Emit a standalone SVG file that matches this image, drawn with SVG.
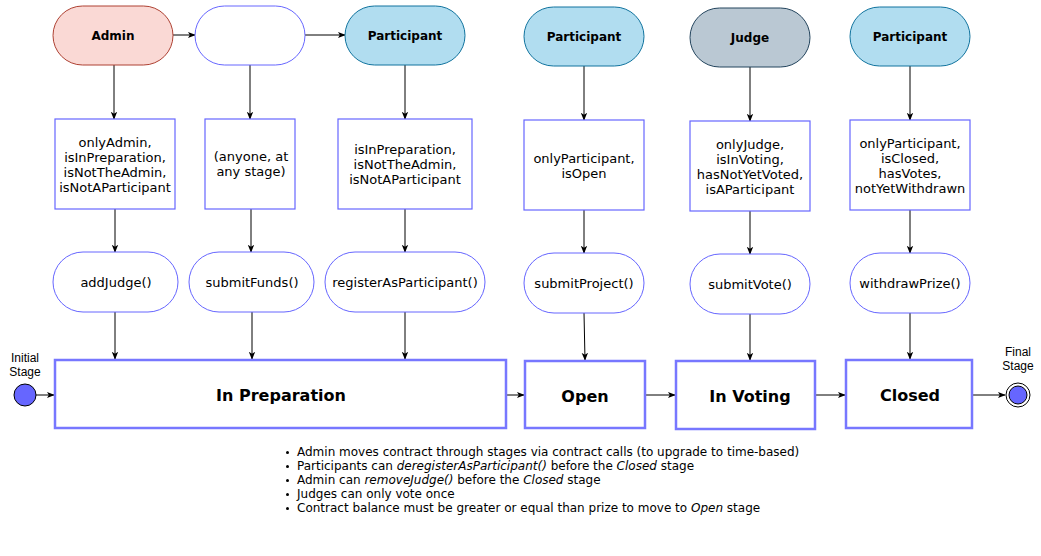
<svg xmlns="http://www.w3.org/2000/svg" width="1041" height="556" viewBox="0 0 1041 556">
<style>
  .t{font-family:"DejaVu Sans",Verdana,sans-serif;font-size:13px;fill:#000;text-anchor:middle}
  .b{font-weight:bold;font-size:12px}
  .st{font-family:"DejaVu Sans",Verdana,sans-serif;font-size:16px;font-weight:bold;fill:#000;text-anchor:middle}
  .lab{font-family:"Liberation Sans",Arial,sans-serif;font-size:12px;fill:#000;text-anchor:middle}
  .note{font-family:"DejaVu Sans",Verdana,sans-serif;font-size:12px;fill:#000}
  .guard{fill:#fff;stroke:#6666ff;stroke-width:1.2}
  .fn{fill:#fff;stroke:#6666ff;stroke-width:1}
  .stage{fill:#fff;stroke:#7777ff;stroke-width:2.5}
  .c{fill:none;stroke:#000;stroke-width:1;marker-end:url(#ah)}
</style>
<defs>
  <marker id="ah" viewBox="0 0 10 10" refX="9" refY="5" markerWidth="8" markerHeight="8" markerUnits="userSpaceOnUse" orient="auto">
    <path d="M0,1 L10,5 L0,9 L2.5,5 Z" fill="#000"/>
  </marker>
</defs>
<rect width="1041" height="556" fill="#fff"/>

<g id="connectors">
  <line class="c" x1="173" y1="35" x2="195" y2="35"/>
  <line class="c" x1="305" y1="35" x2="345" y2="35"/>
  <line class="c" x1="114" y1="65" x2="114" y2="119"/>
  <line class="c" x1="250" y1="65" x2="250" y2="119"/>
  <line class="c" x1="405" y1="65" x2="405" y2="119"/>
  <line class="c" x1="584" y1="66" x2="584" y2="120"/>
  <line class="c" x1="750" y1="67" x2="750" y2="121"/>
  <line class="c" x1="910" y1="66" x2="910" y2="120"/>
  <line class="c" x1="115" y1="209" x2="115" y2="252"/>
  <line class="c" x1="251" y1="209" x2="251" y2="252"/>
  <line class="c" x1="405" y1="209" x2="405" y2="252"/>
  <line class="c" x1="584" y1="210" x2="584" y2="253"/>
  <line class="c" x1="750" y1="211" x2="750" y2="254"/>
  <line class="c" x1="910" y1="210" x2="910" y2="253"/>
  <line class="c" x1="115" y1="312" x2="115" y2="359"/>
  <line class="c" x1="252" y1="312" x2="252" y2="359"/>
  <line class="c" x1="405" y1="312" x2="405" y2="359"/>
  <line class="c" x1="584" y1="313" x2="585" y2="360"/>
  <line class="c" x1="750" y1="314" x2="750" y2="360"/>
  <line class="c" x1="910" y1="313" x2="910" y2="359"/>
  <line class="c" x1="36" y1="395" x2="54" y2="395"/>
  <line class="c" x1="507" y1="395" x2="524" y2="395"/>
  <line class="c" x1="646" y1="395" x2="675" y2="395"/>
  <line class="c" x1="816" y1="395" x2="845" y2="395"/>
  <line class="c" x1="973" y1="395" x2="1005" y2="395"/>
</g>

<g id="admin">
  <rect x="53" y="6" width="120" height="59" rx="29.5" fill="#fad9d5" stroke="#ae4132"/>
  <text class="t b" x="113" y="40">Admin</text>
</g>
<g id="anyone">
  <rect x="195" y="6" width="110" height="59" rx="29.5" fill="#fff" stroke="#6666ff"/>
</g>
<g id="participant1">
  <rect x="345" y="6" width="120" height="59" rx="29.5" fill="#b1ddf0" stroke="#10739e"/>
  <text class="t b" x="405" y="40">Participant</text>
</g>
<g id="participant2">
  <rect x="524" y="7" width="120" height="59" rx="29.5" fill="#b1ddf0" stroke="#10739e"/>
  <text class="t b" x="584" y="41">Participant</text>
</g>
<g id="judge">
  <rect x="690" y="8" width="120" height="59" rx="29.5" fill="#bac8d3" stroke="#23445d"/>
  <text class="t b" x="750" y="42">Judge</text>
</g>
<g id="participant3">
  <rect x="850" y="7" width="120" height="59" rx="29.5" fill="#b1ddf0" stroke="#10739e"/>
  <text class="t b" x="910" y="41">Participant</text>
</g>

<g id="guard1">
  <rect class="guard" x="55" y="119" width="120" height="90"/>
  <text class="t" x="115" y="147">onlyAdmin,</text>
  <text class="t" x="115" y="162">isInPreparation,</text>
  <text class="t" x="115" y="177">isNotTheAdmin,</text>
  <text class="t" x="115" y="192">isNotAParticipant</text>
</g>
<g id="guard2">
  <rect class="guard" x="205" y="119" width="90" height="90"/>
  <text class="t" x="251" y="161">(anyone, at</text>
  <text class="t" x="251" y="176">any stage)</text>
</g>
<g id="guard3">
  <rect class="guard" x="338" y="119" width="134" height="90" stroke="#8888ff" stroke-width="1.6"/>
  <text class="t" x="405" y="154">isInPreparation,</text>
  <text class="t" x="405" y="169">isNotTheAdmin,</text>
  <text class="t" x="405" y="184">isNotAParticipant</text>
</g>
<g id="guard4">
  <rect class="guard" x="524" y="120" width="120" height="90"/>
  <text class="t" x="584" y="163">onlyParticipant,</text>
  <text class="t" x="584" y="178">isOpen</text>
</g>
<g id="guard5">
  <rect class="guard" x="690" y="121" width="120" height="90"/>
  <text class="t" x="750" y="149">onlyJudge,</text>
  <text class="t" x="750" y="164">isInVoting,</text>
  <text class="t" x="750" y="179">hasNotYetVoted,</text>
  <text class="t" x="750" y="194">isAParticipant</text>
</g>
<g id="guard6">
  <rect class="guard" x="850" y="120" width="120" height="90"/>
  <text class="t" x="910" y="148">onlyParticipant,</text>
  <text class="t" x="910" y="163">isClosed,</text>
  <text class="t" x="910" y="178">hasVotes,</text>
  <text class="t" x="910" y="193">notYetWithdrawn</text>
</g>

<g id="addJudge">
  <rect class="fn" x="53" y="252" width="125" height="60" rx="30"/>
  <text class="t" x="116" y="287">addJudge()</text>
</g>
<g id="submitFunds">
  <rect class="fn" x="189" y="252" width="125" height="60" rx="30"/>
  <text class="t" x="252" y="287">submitFunds()</text>
</g>
<g id="registerAsParticipant">
  <rect class="fn" x="325" y="252" width="160" height="60" rx="30"/>
  <text class="t" x="405" y="287">registerAsParticipant()</text>
</g>
<g id="submitProject">
  <rect class="fn" x="524" y="253" width="120" height="60" rx="30"/>
  <text class="t" x="584" y="288">submitProject()</text>
</g>
<g id="submitVote">
  <rect class="fn" x="690" y="254" width="120" height="60" rx="30"/>
  <text class="t" x="750" y="289">submitVote()</text>
</g>
<g id="withdrawPrize">
  <rect class="fn" x="850" y="253" width="120" height="60" rx="30"/>
  <text class="t" x="910" y="288">withdrawPrize()</text>
</g>

<g id="initial">
  <circle cx="25" cy="395" r="11" fill="#6666ff" stroke="#000" stroke-width="1"/>
  <text class="lab" x="25" y="362">Initial</text>
  <text class="lab" x="25" y="376">Stage</text>
</g>
<g id="inPreparation">
  <rect class="stage" x="55" y="360" width="451" height="68"/>
  <text class="st" x="281" y="401">In Preparation</text>
</g>
<g id="open">
  <rect class="stage" x="525" y="361" width="120" height="67"/>
  <text class="st" x="585" y="402">Open</text>
</g>
<g id="inVoting">
  <rect class="stage" x="676" y="361" width="139" height="68"/>
  <text class="st" x="750" y="402">In Voting</text>
</g>
<g id="closed">
  <rect class="stage" x="846" y="360" width="126" height="68"/>
  <text class="st" x="910" y="401">Closed</text>
</g>
<g id="final">
  <circle cx="1018" cy="395" r="12" fill="#fff" stroke="#000" stroke-width="1"/>
  <circle cx="1018" cy="395" r="9" fill="#6666ff" stroke="#000" stroke-width="1"/>
  <text class="lab" x="1018" y="356">Final</text>
  <text class="lab" x="1018" y="370">Stage</text>
</g>

<g id="notes">
  <g fill="#000">
    <circle cx="287.5" cy="452.5" r="1.5"/>
    <circle cx="287.5" cy="466.5" r="1.5"/>
    <circle cx="287.5" cy="480.5" r="1.5"/>
    <circle cx="287.5" cy="494.5" r="1.5"/>
    <circle cx="287.5" cy="508.5" r="1.5"/>
  </g>
  <text class="note" x="297" y="456">Admin moves contract through stages via contract calls (to upgrade to time-based)</text>
  <text class="note" x="297" y="470">Participants can <tspan font-style="italic">deregisterAsParticipant()</tspan> before the <tspan font-style="italic">Closed</tspan> stage</text>
  <text class="note" x="297" y="484">Admin can <tspan font-style="italic">removeJudge()</tspan> before the <tspan font-style="italic">Closed</tspan> stage</text>
  <text class="note" x="297" y="498">Judges can only vote once</text>
  <text class="note" x="297" y="512">Contract balance must be greater or equal than prize to move to <tspan font-style="italic">Open</tspan> stage</text>
</g>
</svg>
